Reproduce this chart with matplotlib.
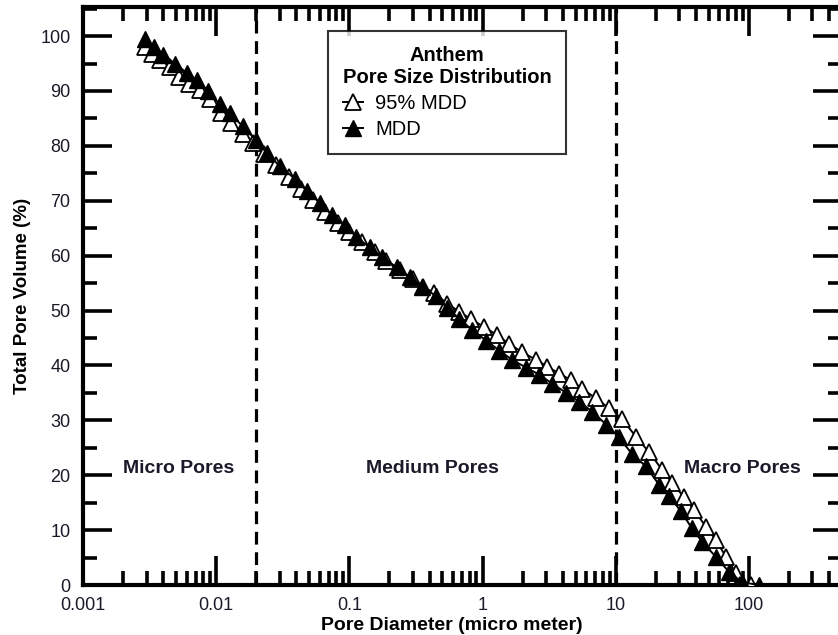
import matplotlib
matplotlib.use("Agg")
import matplotlib.pyplot as plt
from matplotlib.ticker import FixedLocator, FixedFormatter, LogLocator, MultipleLocator, NullFormatter

plt.rcParams['font.family'] = ['Liberation Sans', 'DejaVu Sans']

# Pore size distribution, filled triangles (MDD)
mdd_diam = [0.0029, 0.0034, 0.0040, 0.0049, 0.0060, 0.0072, 0.0087, 0.0106, 0.0126,
            0.0158, 0.020, 0.024, 0.030, 0.039, 0.048, 0.060, 0.074, 0.092, 0.113,
            0.142, 0.177, 0.226, 0.283, 0.354, 0.45, 0.54, 0.67, 0.84, 1.07, 1.34,
            1.67, 2.13, 2.67, 3.33, 4.25, 5.3, 6.65, 8.5, 10.6, 13.3, 16.9, 21.1,
            25.1, 30.9, 37.4, 44.5, 56.6, 70.9, 88.8, 119.0]
mdd_vol = [99.4, 98.0, 96.5, 95.0, 93.3, 92.0, 90.0, 87.6, 86.0,
           83.6, 81.0, 78.7, 76.3, 74.0, 71.8, 69.6, 67.4, 65.6, 63.4,
           61.5, 59.7, 57.9, 56.1, 54.3, 52.6, 50.5, 48.5, 46.4, 44.5, 42.7,
           41.0, 39.6, 38.3, 36.7, 35.0, 33.4, 31.6, 29.2, 26.9, 23.8, 21.6, 18.3,
           16.3, 13.4, 10.3, 7.9, 5.1, 2.4, 0.5, 0.0]

# Pore size distribution, open triangles (95% MDD)
mdd95_diam = [0.0029, 0.0033, 0.0038, 0.0045, 0.0053, 0.0062, 0.0075, 0.0090, 0.0108,
              0.013, 0.0158, 0.019, 0.023, 0.028, 0.035, 0.043, 0.053, 0.066, 0.082,
              0.10, 0.125, 0.155, 0.19, 0.24, 0.30, 0.36, 0.435, 0.545, 0.67, 0.82,
              1.03, 1.29, 1.59, 1.99, 2.53, 3.06, 3.77, 4.64, 5.6, 7.13, 8.9, 11.2,
              14.2, 17.8, 22.3, 26.5, 32.6, 38.7, 47.6, 56.6, 67.3, 80.0, 86.0, 104.0]
mdd95_vol = [98.0, 96.8, 95.6, 94.4, 92.5, 91.2, 90.2, 88.5, 86.0,
             84.2, 82.2, 80.5, 78.5, 76.5, 74.3, 72.2, 70.2, 68.0, 66.0,
             64.3, 62.5, 60.7, 59.0, 57.3, 55.8, 54.3, 53.2, 51.2, 49.8, 48.4,
             47.0, 45.5, 43.9, 42.4, 41.0, 39.8, 38.5, 37.3, 35.7, 34.0, 32.2, 30.2,
             27.0, 24.2, 21.0, 18.6, 16.0, 13.7, 10.6, 8.2, 5.1, 2.2, 0.0, 0.0]

# Class boundaries between micro / medium / macro pores
boundaries = [0.02, 10]
regions = ["Micro Pores", "Medium Pores", "Macro Pores"]
region_x = [0.0052, 0.42, 89.0]
region_y = 21.3

x_ticks = [0.001, 0.01, 0.1, 1, 10, 100]
x_tick_labels = ["0.001", "0.01", "0.1", "1", "10", "100"]

fig = plt.figure(figsize=(8.38, 6.35), dpi=100)
ax = fig.add_axes([83 / 838, 50 / 635, (842 - 83) / 838, (585 - 7) / 635])

ax.set_xscale("log")
ax.set_xlim(0.001, 500)
ax.set_ylim(0, 105.3)

for b in boundaries:
    ax.axvline(b, color="black", lw=2.3, ls=(0, (4, 2.4)), zorder=1)

ax.plot(mdd95_diam, mdd95_vol, color="black", lw=1.4, marker="^", ms=11,
        mfc="white", mec="black", mew=1.3, zorder=3, label="95% MDD")
ax.plot(mdd_diam, mdd_vol, color="black", lw=1.4, marker="^", ms=11,
        mfc="black", mec="black", zorder=4, label="MDD")

for name, xr in zip(regions, region_x):
    ax.text(xr, region_y, name, ha="center", va="center", fontsize=14,
            fontweight="bold", color="#1a1a2a")

ax.xaxis.set_major_locator(FixedLocator(x_ticks))
ax.xaxis.set_major_formatter(FixedFormatter(x_tick_labels))
ax.xaxis.set_minor_locator(LogLocator(base=10, subs=range(2, 10), numticks=20))
ax.xaxis.set_minor_formatter(NullFormatter())
ax.yaxis.set_major_locator(MultipleLocator(10))
ax.yaxis.set_minor_locator(MultipleLocator(5))

ax.tick_params(which="both", direction="in", top=True, right=True, width=2.6,
               labelsize=13, labelcolor="#1a1a2a")
ax.tick_params(which="major", length=21)
ax.tick_params(which="minor", length=10)
ax.tick_params(axis="x", which="major", pad=9)
ax.tick_params(axis="y", which="major", pad=9)
for s in ax.spines.values():
    s.set_linewidth(3)

ax.set_xlabel("Pore Diameter (micro meter)", fontsize=14, fontweight="bold",
              labelpad=0)
ax.xaxis.set_label_coords(0.486, -0.055)
ax.set_ylabel("Total Pore Volume (%)", fontsize=13.5, fontweight="bold", labelpad=7)

leg = ax.legend(loc="upper left", bbox_to_anchor=(0.323, 0.958),
                title="Anthem\nPore Size Distribution",
                title_fontproperties={"weight": "bold", "size": 14.5},
                fontsize=14.5, frameon=True, fancybox=False, edgecolor="black",
                borderpad=0.72, handlelength=1.0, handletextpad=0.6,
                labelspacing=0.36, borderaxespad=0)
leg.get_frame().set_linewidth(1.5)
leg._legend_box.align = "left"
leg.get_title().set_multialignment("center")

fig.savefig("out.png", dpi=100)
